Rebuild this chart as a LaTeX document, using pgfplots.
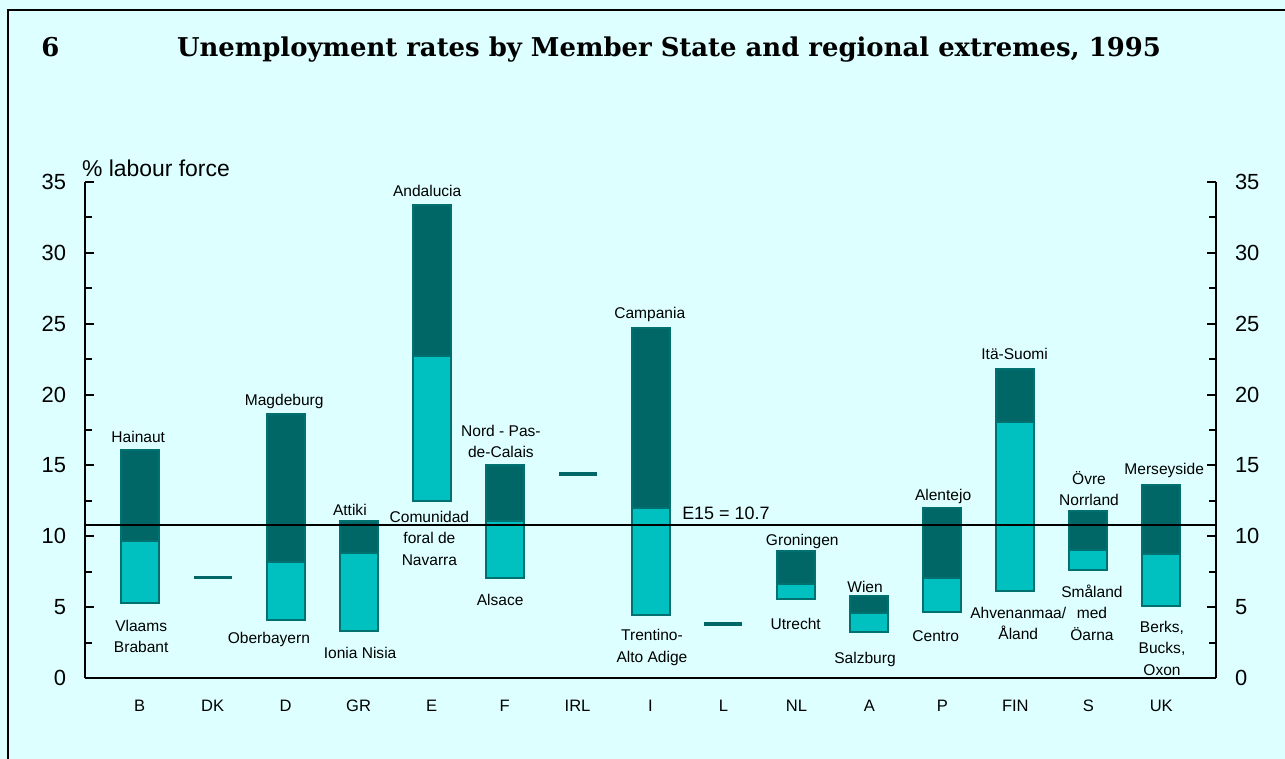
\documentclass[border=0pt]{standalone}
\usepackage{pgfplots}
\pgfplotsset{compat=1.18}
\usepackage{pgfplotstable}
\usepackage{fontspec}
\setmainfont{Liberation Sans}
\newfontfamily\titlefont{DejaVu Serif}
\definecolor{bg}{HTML}{DDFFFF}
\definecolor{darkteal}{HTML}{006666}
\definecolor{lightteal}{HTML}{00C0C0}
\definecolor{edgeteal}{HTML}{007070}

\pgfplotstableread{
x min nat max
0 5.3 9.7 16.1
1 7.1 7.1 7.1
2 4.1 8.2 18.6
3 3.35 8.85 11.1
4 12.5 22.7 33.4
5 7.05 11.1 15.05
6 14.4 14.4 14.4
7 4.45 12.0 24.7
8 3.8 3.8 3.8
9 5.6 6.6 8.95
10 3.25 4.6 5.8
11 4.65 7.05 12.0
12 6.15 18.05 21.8
13 7.65 9.05 11.8
14 5.1 8.75 13.6
}\rates

\pgfplotstableread{
x v
1 7.1
6 14.4
8 3.8
}\single

\begin{document}
\begin{tikzpicture}[lbl/.style={font=\fontsize{7.8}{10.8}\selectfont, align=center, inner sep=0pt}]
\fill[bg] (-42.5bp,-40.5bp) rectangle (600bp,339bp);
\draw[black, line width=0.8bp] (-38.5bp,-40.5bp) -- (-38.5bp,334bp) -- (600bp,334bp);
\node[anchor=base, font=\titlefont\bfseries\fontsize{13}{15}\selectfont] at (-17.25bp,310.6bp) {6};
\node[anchor=base, font=\titlefont\bfseries\fontsize{13}{15}\selectfont] at (292bp,310.6bp) {Unemployment rates by Member State and regional extremes, 1995};
\node[anchor=west, inner sep=0pt, font=\fontsize{11.5}{13}\selectfont] at (-1.65bp,254.7bp) {\% labour force};

\begin{axis}[
 at={(0,0)}, anchor=south west,
 scale only axis, width=565.5bp, height=248bp,
 xmin=-0.75, xmax=14.75, ymin=0, ymax=35,
 ybar stacked, bar width=19bp,
 axis x line*=bottom, axis y line*=left,
 tick align=inside,
 ytick={0,5,...,35}, minor y tick num=1,
 major tick length=4.5bp, minor tick length=3.5bp,
 xtick={0,...,14}, xticklabels={B,DK,D,GR,E,F,IRL,I,L,NL,A,P,FIN,S,UK},
 xtick style={draw=none},
 x tick label style={font=\fontsize{8.3}{10}\selectfont, yshift=-7.5bp},
 y tick label style={font=\fontsize{11}{13}\selectfont, xshift=-6bp},
 /pgf/number format/assume math mode=true,
 axis line style={line width=1bp},
 x axis line style={line width=1.3bp},
 tick style={line width=1bp, black},
 clip=false,
]
\addplot[draw=none, fill=none] table[x=x,y=min]{\rates};
\addplot[fill=lightteal, draw=edgeteal, line width=1bp] table[x=x, y expr=\thisrow{nat}-\thisrow{min}]{\rates};
\addplot[fill=darkteal, draw=edgeteal, line width=1bp] table[x=x, y expr=\thisrow{max}-\thisrow{nat}]{\rates};

\node[lbl] at (axis cs:-0.02,16.98) {Hainaut};
\node[lbl] at (axis cs:0.02,2.92) {Vlaams\\Brabant};
\node[lbl] at (axis cs:1.98,19.53) {Magdeburg};
\node[lbl] at (axis cs:1.77,2.70) {Oberbayern};
\node[lbl] at (axis cs:2.88,11.86) {Attiki};
\node[lbl] at (axis cs:3.02,1.77) {Ionia Nisia};
\node[lbl] at (axis cs:3.94,34.4) {Andalucia};
\node[lbl] at (axis cs:3.97,9.86) {Comunidad\\foral de\\Navarra};
\node[lbl] at (axis cs:4.95,16.7) {Nord - Pas-\\de-Calais};
\node[lbl] at (axis cs:4.94,5.49) {Alsace};
\node[lbl] at (axis cs:6.99,25.66) {Campania};
\node[lbl] at (axis cs:7.02,2.14) {Trentino-\\Alto Adige};
\node[anchor=west, inner sep=0pt, font=\fontsize{9}{10}\selectfont] at (axis cs:7.43,11.6) {E15 = 10.7};
\node[lbl] at (axis cs:9.08,9.6) {Groningen};
\node[lbl] at (axis cs:8.99,3.79) {Utrecht};
\node[lbl] at (axis cs:9.94,6.46) {Wien};
\node[lbl] at (axis cs:9.94,1.34) {Salzburg};
\node[lbl] at (axis cs:11.01,12.83) {Alentejo};
\node[lbl] at (axis cs:10.91,2.94) {Centro};
\node[lbl] at (axis cs:11.99,22.86) {Itä-Suomi};
\node[lbl] at (axis cs:12.04,3.85) {Ahvenanmaa/\\Åland};
\node[lbl] at (axis cs:13.01,13.37) {Övre\\Norrland};
\node[lbl] at (axis cs:13.05,4.62) {Småland\\med\\Öarna};
\node[lbl] at (axis cs:14.04,14.65) {Merseyside};
\node[lbl] at (axis cs:14.01,2.09) {Berks,\\Bucks,\\Oxon};
\end{axis}

\begin{axis}[
 at={(0,0)}, anchor=south west,
 scale only axis, width=565.5bp, height=248bp,
 xmin=-0.75, xmax=14.75, ymin=0, ymax=35,
 axis x line=none, axis y line*=right,
 tick align=inside,
 ytick={0,5,...,35}, minor y tick num=1,
 major tick length=4.5bp, minor tick length=3.5bp,
 y tick label style={font=\fontsize{11}{13}\selectfont, xshift=6bp},
 /pgf/number format/assume math mode=true,
 axis line style={line width=1bp},
 tick style={line width=1bp, black},
 clip=false,
]
\addplot[black, line width=1bp] coordinates {(-0.75,10.8) (14.75,10.8)};
\addplot[only marks, mark=-, mark size=9.5bp, color=darkteal, mark options={line width=1.7bp}] table[x=x,y=v]{\single};
\end{axis}
\pgfresetboundingbox
\useasboundingbox (-42.5bp,-40.5bp) rectangle (600bp,339bp);
\end{tikzpicture}
\end{document}
